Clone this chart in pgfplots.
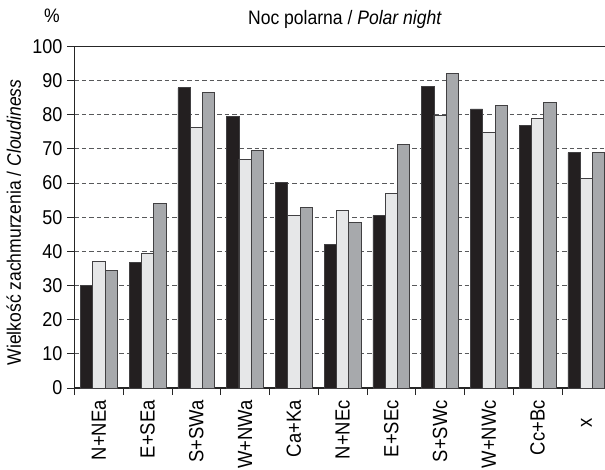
\documentclass[border=0pt]{standalone}
\usepackage{fontspec}
\setmainfont{Liberation Sans}[FakeStretch=0.9]
\usepackage{graphicx}
\usepackage{pgfplots}
\pgfplotsset{compat=1.18}
\definecolor{barblack}{HTML}{231F20}
\definecolor{barlight}{HTML}{E6E7E8}
\definecolor{bargrey}{HTML}{A7A9AC}
\definecolor{edgec}{HTML}{414042}
\definecolor{gridc}{HTML}{58595B}
\begin{document}
\begin{tikzpicture}[font=\fontsize{19.5pt}{23pt}\selectfont]
\begin{axis}[
  scale only axis, width=536.25pt, height=341.5pt,
  xmin=-0.5, xmax=10.5, ymin=0, ymax=100,
  ybar, bar width=12.3pt,
  x tick label as interval,
  xtick={-0.5,0.5,1.5,2.5,3.5,4.5,5.5,6.5,7.5,8.5,9.5,10.5},
  xticklabels={N+NEa,E+SEa,S+SWa,W+NWa,Ca+Ka,N+NEc,E+SEc,S+SWc,W+NWc,Cc+Bc,x\hspace*{18pt}},
  ytick={0,10,...,100},
  xtick pos=bottom, ytick pos=left,
  tick align=outside, major tick length=7pt,
  every tick/.style={line width=1pt, black!85},
  ymajorgrids, major grid style={gridc, dash pattern=on 4.5pt off 3pt, line width=1pt},
  axis line style={line width=1.2pt, black!85},
  /pgf/number format/assume math mode=true,
  yticklabel style={anchor=east, inner sep=0pt, font=\fontsize{20pt}{23pt}\selectfont},
  yticklabel shift=5pt,
  xticklabel style={rotate=90, anchor=east, inner sep=0pt, font=\fontsize{20.5pt}{25pt}\selectfont},
  xticklabel shift=5pt,
]
\addplot[fill=barblack, draw=edgec, line width=0.8pt, bar shift=-12.3pt] coordinates {
 (0,30.1) (1,36.7) (2,87.9) (3,79.4) (4,60.3) (5,42.0) (6,50.5) (7,88.4) (8,81.7) (9,77.0) (10,68.9)};
\addplot[fill=barlight, draw=edgec, line width=0.8pt, bar shift=0pt] coordinates {
 (0,37.1) (1,39.4) (2,76.2) (3,67.0) (4,50.6) (5,51.9) (6,57.0) (7,79.9) (8,74.7) (9,78.9) (10,61.3)};
\addplot[fill=bargrey, draw=edgec, line width=0.8pt, bar shift=12.3pt] coordinates {
 (0,34.5) (1,54.1) (2,86.6) (3,69.5) (4,52.8) (5,48.4) (6,71.2) (7,92.2) (8,82.7) (9,83.5) (10,69.0)};
\end{axis}
\node at (-22.5pt,372pt) {\%};
\node[anchor=base] at (270.5pt,363pt) {Noc polarna / \textit{Polar night}};
\node[rotate=90, anchor=base] at (-53.5pt,165.5pt) {Wielkość zachmurzenia / \textit{Cloudiness}};
\pgfresetboundingbox
\path[use as bounding box] (-74.5pt,-81pt) rectangle (530.5pt,388pt);
\end{tikzpicture}
\end{document}
